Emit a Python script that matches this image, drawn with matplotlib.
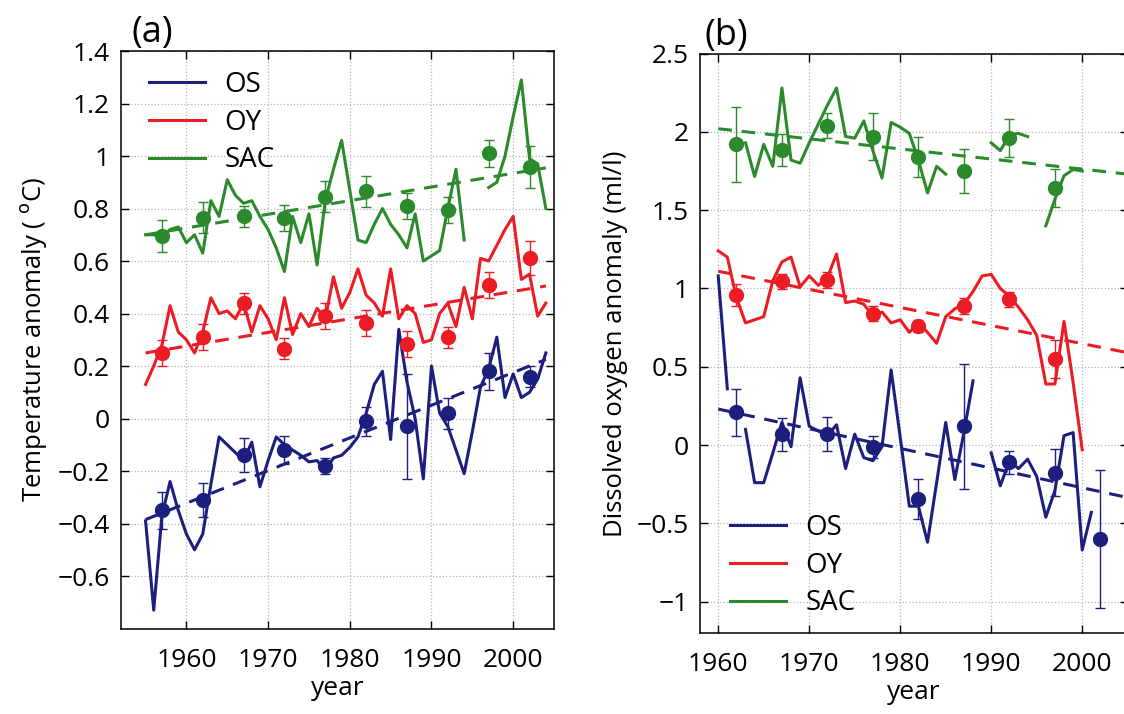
import numpy as np
import matplotlib.pyplot as plt
from matplotlib.ticker import FuncFormatter

plt.rcParams['font.family'] = ['Open Sans', 'DejaVu Sans']

# ---- panel (a): temperature anomaly, annual series 1955-2004
years_a = np.arange(1955, 2005)
temp_os = [-0.39, -0.73, -0.37, -0.24, -0.35, -0.44, -0.50, -0.44, -0.25, -0.07,
           -0.10, -0.13, -0.16, -0.09, -0.26, -0.16, -0.07, -0.10, -0.12, -0.14,
           -0.165, -0.16, -0.20, -0.15, -0.14, -0.11, -0.07, 0.02, 0.13, 0.18,
           -0.08, 0.34, 0.14, 0.00, -0.23, 0.20, 0.02, -0.03, -0.12, -0.21,
           -0.05, 0.12, 0.19, 0.31, 0.08, 0.17, 0.08, 0.10, 0.15, 0.25]
temp_oy = [0.13, 0.20, 0.28, 0.43, 0.33, 0.30, 0.25, 0.33, 0.46, 0.40,
           0.41, 0.38, 0.44, 0.33, 0.43, 0.38, 0.30, 0.46, 0.32, 0.40,
           0.35, 0.42, 0.38, 0.54, 0.42, 0.48, 0.57, 0.47, 0.44, 0.39,
           0.57, 0.38, 0.43, 0.40, 0.29, 0.30, 0.40, 0.44, 0.35, 0.50,
           0.38, 0.61, 0.60, 0.66, 0.72, 0.77, 0.53, 0.55, 0.39, 0.44]
temp_sac = [0.70, 0.70, 0.69, 0.72, 0.73, 0.67, 0.70, 0.63, 0.83, 0.77,
            0.91, 0.85, 0.82, 0.83, 0.77, 0.72, 0.65, 0.56, 0.77, 0.67,
            0.78, 0.585, 0.83, 0.95, 1.06, 0.87, 0.68, 0.67, 0.74, 0.80,
            0.74, 0.70, 0.65, 0.78, 0.60, 0.62, 0.64, 0.80, 0.95, 0.68,
            np.nan, np.nan, 0.88, 0.90, 1.00, 1.15, 1.29, 0.99, 0.97, 0.80]

# 5-year means and their errors
bins_a = np.arange(1957, 2003, 5)
temp_os_mean = [-0.35, -0.31, -0.14, -0.12, -0.18, -0.01, -0.03, 0.02, 0.18, 0.16]
temp_os_err = [0.07, 0.065, 0.065, 0.055, 0.03, 0.055, 0.20, 0.06, 0.07, 0.04]
temp_oy_mean = [0.25, 0.31, 0.44, 0.265, 0.39, 0.365, 0.285, 0.31, 0.51, 0.61]
temp_oy_err = [0.05, 0.05, 0.04, 0.04, 0.05, 0.05, 0.05, 0.04, 0.05, 0.065]
temp_sac_mean = [0.695, 0.765, 0.77, 0.765, 0.845, 0.865, 0.81, 0.795, 1.01, 0.96]
temp_sac_err = [0.06, 0.06, 0.04, 0.05, 0.06, 0.06, 0.05, 0.05, 0.05, 0.08]

# linear trends (start, end)
trend_years_a = [1955, 2004]
temp_os_trend = [-0.385, 0.225]
temp_oy_trend = [0.25, 0.505]
temp_sac_trend = [0.70, 0.955]

# ---- panel (b): dissolved oxygen anomaly, annual series 1960-2001
years_b = np.arange(1960, 2002)
oxy_os = [1.08, 0.36, np.nan, 0.10, -0.24, -0.24, -0.05, 0.145, -0.01, 0.43,
          0.12, 0.09, 0.06, 0.13, -0.15, 0.07, -0.08, -0.10, -0.01, 0.48,
          0.05, -0.39, -0.39, -0.62, -0.24, 0.145, -0.22, 0.08, 0.41, np.nan,
          -0.05, -0.26, -0.10, -0.15, -0.09, -0.20, -0.46, -0.29, 0.06, 0.08,
          -0.67, -0.43]
oxy_oy = [1.24, 1.20, 0.94, 0.78, 0.80, 0.82, 1.05, 1.17, 1.20, 1.01,
          1.08, 1.02, 1.07, 1.22, 0.91, 0.92, 0.90, 0.82, 0.85, 0.78,
          0.80, 0.72, 0.78, 0.72, 0.65, 0.82, 0.87, 0.90, 0.98, 1.08,
          1.09, 1.00, 0.95, 0.88, 0.80, 0.70, 0.39, 0.39, 0.79, 0.40,
          -0.03, np.nan]
oxy_sac = [np.nan, np.nan, np.nan, 1.93, 1.715, 1.92, 1.78, 2.28, 1.82, 1.80,
           1.93, 2.05, 2.17, 2.28, 1.97, 1.96, 2.07, 1.88, 1.705, 2.06,
           2.03, 1.99, 1.82, 1.61, 1.78, 1.73, np.nan, np.nan, np.nan, np.nan,
           1.93, 1.88, 1.98, 1.99, 1.97, np.nan, 1.40, 1.57, 1.72, 1.76,
           1.75, np.nan]

bins_b = np.arange(1962, 2003, 5)
oxy_os_mean = [0.21, 0.07, 0.07, -0.015, -0.345, 0.12, -0.11, -0.175, -0.60]
oxy_os_err = [0.15, 0.105, 0.11, 0.07, 0.13, 0.40, 0.075, 0.15, 0.44]
oxy_oy_mean = [0.96, 1.045, 1.055, 0.84, 0.76, 0.89, 0.93, 0.55, np.nan]
oxy_oy_err = [0.07, 0.05, 0.05, 0.05, 0.04, 0.05, 0.05, 0.12, np.nan]
oxy_sac_mean = [1.92, 1.885, 2.04, 1.97, 1.84, 1.75, 1.96, 1.64, np.nan]
oxy_sac_err = [0.24, 0.10, 0.08, 0.15, 0.13, 0.14, 0.12, 0.12, np.nan]

trend_years_b = [1960, 2005]
oxy_os_trend = [0.23, -0.335]
oxy_oy_trend = [1.11, 0.59]
oxy_sac_trend = [2.02, 1.73]

names = ['OS', 'OY', 'SAC']
colors = ['#1c1f7e', '#ec1c24', '#2b8a2b']


def fmt(v, pos):
    return f'{round(v, 2):g}'.replace('-', '\u2212')


def draw_panel(ax, years, series, bins, means, errs, trend_years, trends):
    handles = []
    for s, m, e, t, c, n in zip(series, means, errs, trends, colors, names):
        h, = ax.plot(years, s, color=c, lw=2.2, label=n, zorder=3)
        handles.append(h)
        ax.plot(trend_years, t, color=c, lw=2.2, dashes=(4.5, 3.2), zorder=3)
        ax.errorbar(bins, m, yerr=e, fmt='o', color=c, ms=10, elinewidth=1,
                    capsize=3.5, capthick=1, zorder=4)
    ax.grid(True, linestyle=':', color='#b5b5b5', linewidth=0.9)
    ax.tick_params(direction='in', top=True, right=True, length=6, width=1,
                   labelsize=19)
    ax.tick_params(axis='x', pad=14)
    ax.tick_params(axis='y', pad=8)
    ax.xaxis.set_major_formatter(FuncFormatter(fmt))
    ax.yaxis.set_major_formatter(FuncFormatter(fmt))
    for sp in ax.spines.values():
        sp.set_linewidth(1.1)
    ax.set_xlabel('year', fontsize=19, labelpad=2)
    return handles


fig = plt.figure(figsize=(11.24, 7.14), dpi=100)

ax1 = fig.add_axes([0.1077, 0.1197, 0.3852, 0.8088])
h1 = draw_panel(ax1, years_a, [temp_os, temp_oy, temp_sac], bins_a,
                [temp_os_mean, temp_oy_mean, temp_sac_mean],
                [temp_os_err, temp_oy_err, temp_sac_err],
                trend_years_a, [temp_os_trend, temp_oy_trend, temp_sac_trend])
ax1.set_xlim(1952, 2005)
ax1.set_ylim(-0.8, 1.4)
ax1.set_xticks([1960, 1970, 1980, 1990, 2000])
ax1.set_yticks(np.arange(-0.6, 1.41, 0.2))
ax1.set_ylabel('Temperature anomaly ( $^{\\rm o}$C)', fontsize=18.5, labelpad=6)
ax1.legend(handles=h1, loc='upper left', frameon=False, fontsize=20,
           handlelength=2.0, handletextpad=0.7, labelspacing=0.35,
           borderaxespad=0.0, bbox_to_anchor=(0.04, 0.985))
ax1.text(0.025, 1.0, '(a)', transform=ax1.transAxes, fontsize=26,
         ha='left', va='bottom')

ax2 = fig.add_axes([0.6228, 0.1134, 0.3805, 0.8116])
h2 = draw_panel(ax2, years_b, [oxy_os, oxy_oy, oxy_sac], bins_b,
                [oxy_os_mean, oxy_oy_mean, oxy_sac_mean],
                [oxy_os_err, oxy_oy_err, oxy_sac_err],
                trend_years_b, [oxy_os_trend, oxy_oy_trend, oxy_sac_trend])
ax2.set_xlim(1958, 2005)
ax2.set_ylim(-1.2, 2.5)
ax2.set_xticks([1960, 1970, 1980, 1990, 2000])
ax2.set_yticks(np.arange(-1, 2.51, 0.5))
ax2.set_ylabel('Dissolved oxygen anomaly (ml/l)', fontsize=18.5, labelpad=6)
ax2.legend(handles=h2, loc='lower left', frameon=False, fontsize=20,
           handlelength=2.0, handletextpad=0.7, labelspacing=0.35,
           borderaxespad=0.0, bbox_to_anchor=(0.045, 0.008))
ax2.text(0.01, 1.0, '(b)', transform=ax2.transAxes, fontsize=26,
         ha='left', va='bottom')

fig.savefig('out.png', dpi=100)
